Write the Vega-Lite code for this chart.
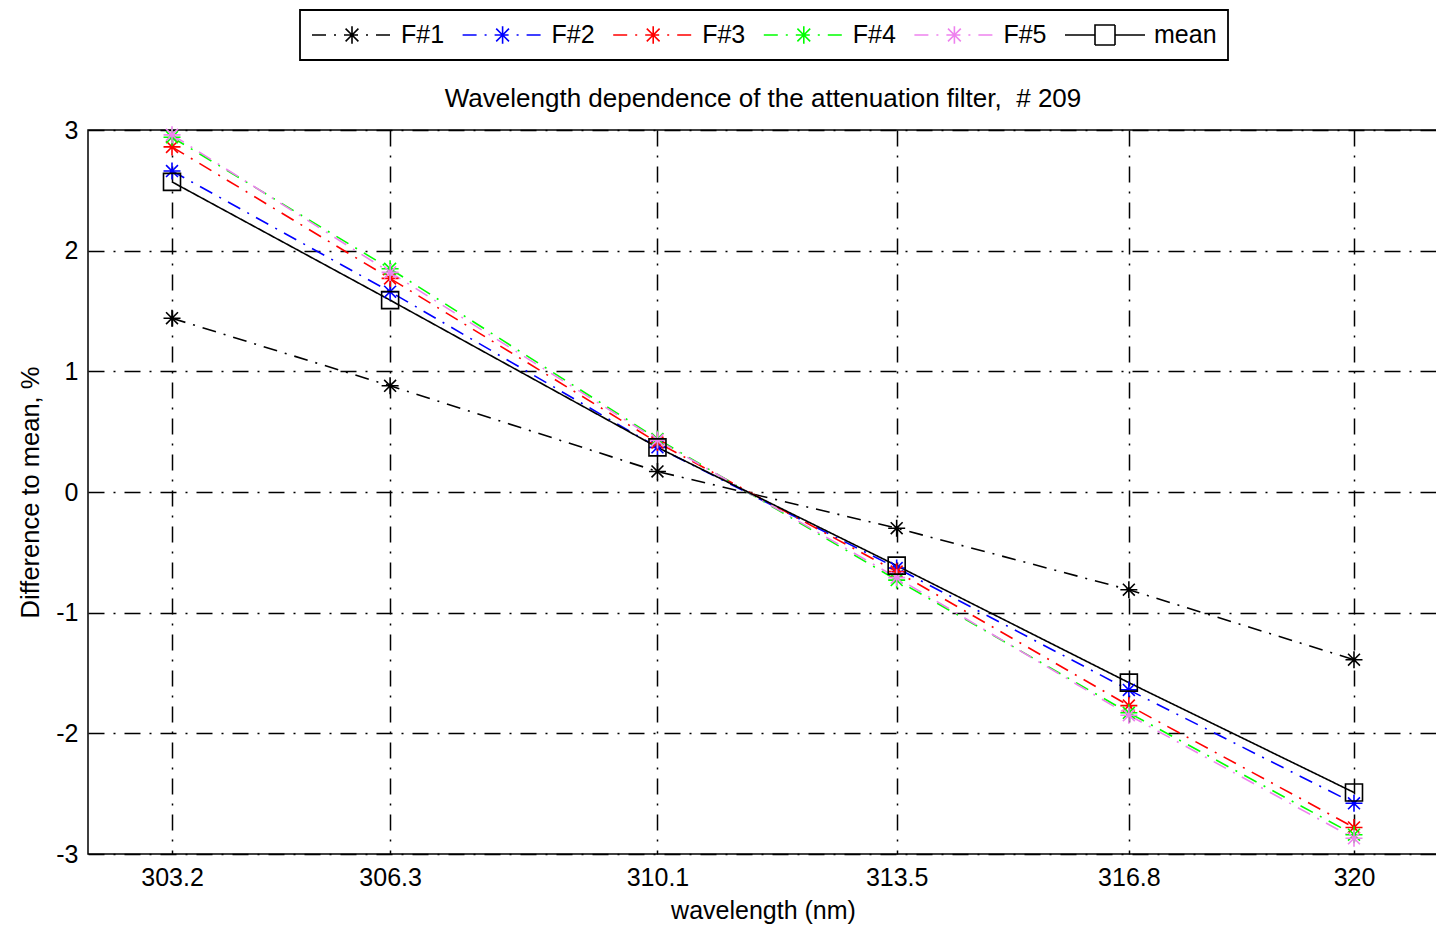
{
  "$schema": "https://vega.github.io/schema/vega-lite/v6.json",
  "width": 1350,
  "height": 724,
  "autosize": {"type": "none"},
  "padding": {"left": 88, "top": 130, "right": 0, "bottom": 75},
  "background": "white",
  "config": {
    "font": "Liberation Sans",
    "view": {"stroke": "black", "strokeWidth": 1.5}
  },
  "title": {
    "text": "Wavelength dependence of the attenuation filter,\u00a0 # 209",
    "fontSize": 26,
    "fontWeight": "normal",
    "color": "black",
    "anchor": "middle",
    "offset": -103
  },
  "data": {
    "values": [
      {"wl": 303.2, "series": "F#1", "v": 1.44},
      {"wl": 306.3, "series": "F#1", "v": 0.88},
      {"wl": 310.1, "series": "F#1", "v": 0.17},
      {"wl": 313.5, "series": "F#1", "v": -0.30},
      {"wl": 316.8, "series": "F#1", "v": -0.81},
      {"wl": 320.0, "series": "F#1", "v": -1.39},
      {"wl": 303.2, "series": "F#2", "v": 2.66},
      {"wl": 306.3, "series": "F#2", "v": 1.66},
      {"wl": 310.1, "series": "F#2", "v": 0.37},
      {"wl": 313.5, "series": "F#2", "v": -0.63},
      {"wl": 316.8, "series": "F#2", "v": -1.64},
      {"wl": 320.0, "series": "F#2", "v": -2.58},
      {"wl": 303.2, "series": "F#3", "v": 2.86},
      {"wl": 306.3, "series": "F#3", "v": 1.77},
      {"wl": 310.1, "series": "F#3", "v": 0.41},
      {"wl": 313.5, "series": "F#3", "v": -0.66},
      {"wl": 316.8, "series": "F#3", "v": -1.77},
      {"wl": 320.0, "series": "F#3", "v": -2.78},
      {"wl": 303.2, "series": "F#4", "v": 2.94},
      {"wl": 306.3, "series": "F#4", "v": 1.85},
      {"wl": 310.1, "series": "F#4", "v": 0.44},
      {"wl": 313.5, "series": "F#4", "v": -0.73},
      {"wl": 316.8, "series": "F#4", "v": -1.83},
      {"wl": 320.0, "series": "F#4", "v": -2.84},
      {"wl": 303.2, "series": "F#5", "v": 2.96},
      {"wl": 306.3, "series": "F#5", "v": 1.82},
      {"wl": 310.1, "series": "F#5", "v": 0.43},
      {"wl": 313.5, "series": "F#5", "v": -0.71},
      {"wl": 316.8, "series": "F#5", "v": -1.85},
      {"wl": 320.0, "series": "F#5", "v": -2.87},
      {"wl": 303.2, "series": "mean", "v": 2.57},
      {"wl": 306.3, "series": "mean", "v": 1.59},
      {"wl": 310.1, "series": "mean", "v": 0.37},
      {"wl": 313.5, "series": "mean", "v": -0.61},
      {"wl": 316.8, "series": "mean", "v": -1.58},
      {"wl": 320.0, "series": "mean", "v": -2.49}
    ]
  },
  "encoding": {
    "x": {
      "field": "wl",
      "type": "quantitative",
      "scale": {"domain": [302.006, 321.194], "nice": false, "zero": false},
      "axis": {
        "values": [303.2, 306.3, 310.1, 313.5, 316.8, 320],
        "format": ".1~f",
        "title": "wavelength (nm)",
        "titleFontSize": 25,
        "titleFontWeight": "normal",
        "titleColor": "black",
        "titlePadding": 8,
        "labelFontSize": 25,
        "labelColor": "black",
        "labelPadding": 11,
        "labelFlush": false,
        "labelOverlap": false,
        "ticks": false,
        "domain": false,
        "grid": true,
        "gridColor": "black",
        "gridOpacity": 1,
        "gridWidth": 1.5,
        "gridDash": [16, 9, 2, 9]
      }
    },
    "y": {
      "field": "v",
      "type": "quantitative",
      "scale": {"domain": [-3, 3], "nice": false, "zero": false},
      "axis": {
        "values": [-3, -2, -1, 0, 1, 2, 3],
        "labelExpr": "datum.value < 0 ? '-' + abs(datum.value) : '' + datum.value",
        "title": "Difference to mean, %",
        "titleFontSize": 25.5,
        "titleFontWeight": "normal",
        "titleColor": "black",
        "titlePadding": 12,
        "labelFontSize": 25,
        "labelColor": "black",
        "labelPadding": 10,
        "labelFlush": false,
        "labelOverlap": false,
        "ticks": false,
        "domain": false,
        "grid": true,
        "gridColor": "black",
        "gridOpacity": 1,
        "gridWidth": 1.5,
        "gridDash": [16, 9, 2, 9]
      }
    }
  },
  "layer": [
    {
      "mark": {"type": "line", "strokeWidth": 1.6},
      "encoding": {
        "color": {
          "field": "series",
          "type": "nominal",
          "scale": {
            "domain": ["F#1", "F#2", "F#3", "F#4", "F#5", "mean"],
            "range": ["#000000", "#0000FF", "#FF0000", "#00FF00", "#EE82EE", "#000000"]
          },
          "legend": {
            "orient": "none",
            "legendX": 212,
            "legendY": -120,
            "direction": "horizontal",
            "columns": 6,
            "title": null,
            "symbolSize": 6400,
            "clipHeight": 28,
            "symbolStrokeWidth": 1.6,
            "labelFontSize": 25,
            "labelColor": "black",
            "labelOffset": 8,
            "columnPadding": 16.6,
            "padding": 11,
            "strokeColor": "black",
            "fillColor": "white",
            "encode": {
              "legend": {"update": {"strokeWidth": {"value": 1.8}}},
              "symbols": {
                "update": {
                  "shape": {"signal": "datum.value === 'mean' ? 'M-1,0H-0.25M0.25,0H1M-0.25,-0.25H0.25V0.25H-0.25Z' : 'M-1,0H1M0,0V-0.22M0,0V0.22M0,0L-0.16,-0.16M0,0L0.16,0.16M0,0L-0.16,0.16M0,0L0.16,-0.16'"},
                  "fill": {"value": "transparent"}
                }
              }
            }
          }
        },
        "strokeDash": {
          "field": "series",
          "type": "nominal",
          "scale": {
            "domain": ["F#1", "F#2", "F#3", "F#4", "F#5", "mean"],
            "range": [[14, 8, 2, 8], [14, 8, 2, 8], [14, 8, 2, 8], [14, 8, 2, 8], [14, 8, 2, 8], [1, 0]]
          }
        }
      }
    },
    {
      "transform": [{"filter": "datum.series !== 'mean'"}],
      "mark": {
        "type": "point",
        "filled": false,
        "strokeWidth": 1.6,
        "size": 289,
        "opacity": 1,
        "shape": "M-1,0H1M0,-1V1M-0.7,-0.7L0.7,0.7M-0.7,0.7L0.7,-0.7"
      },
      "encoding": {
        "color": {"field": "series", "type": "nominal", "legend": null}
      }
    },
    {
      "transform": [{"filter": "datum.series === 'mean'"}],
      "mark": {
        "type": "point",
        "filled": false,
        "strokeWidth": 1.6,
        "size": 289,
        "opacity": 1,
        "shape": "M-1,-1H1V1H-1Z"
      },
      "encoding": {
        "color": {"field": "series", "type": "nominal", "legend": null}
      }
    }
  ]
}
